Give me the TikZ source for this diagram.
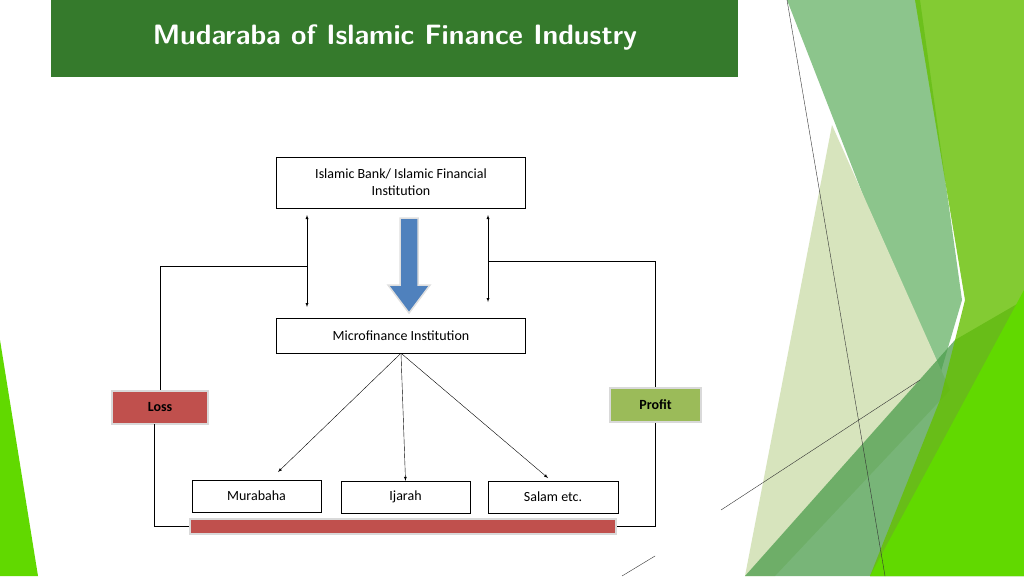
\documentclass[tikz,border=0pt]{standalone}
\usepackage{fontspec}
\setmainfont{Carlito}
\usetikzlibrary{positioning,shapes,arrows}

\definecolor{titlegreen}{HTML}{357A2C}
\definecolor{lossred}{HTML}{C0504D}
\definecolor{profitgreen}{HTML}{9BBB59}
\definecolor{flowblue}{HTML}{4F81BD}

\begin{document}
\begin{tikzpicture}[x=1pt,y=-1pt]
            \tikzstyle{box} = [rectangle, draw=black, fill=white, inner sep=0pt, font=\fontsize{14}{17}\selectfont, align=center]
            \tikzstyle{tag} = [rectangle, draw=gray!30, line width=1.5pt, inner sep=0pt, font=\fontsize{14}{17}\selectfont\bfseries]
            \tikzstyle{arrow} = [thin,-latex]
            \tikzstyle{both} = [thin,latex-latex]

            % Background
            \useasboundingbox (0,0) rectangle (1024,576);
            \fill[white] (0,0) rectangle (1024,576);
            \fill[green!50!black!60, opacity=0.75] (787,0) -- (920,0) -- (962,300) -- (937,385) -- cycle;
            \fill[profitgreen!40] (832,125) -- (950,390) -- (775,576) -- (745,576) -- cycle;
            \fill[green!45!black!70, opacity=0.75] (745,576) -- (955,340) -- (1024,300) -- (1024,576) -- cycle;
            \fill[lime!70!green!75!black, opacity=0.8] (915,0) -- (1024,0) -- (1024,576) -- (870,576) -- (940,400) -- (965,300) -- cycle;
            \fill[lime!60!green!85!black] (870,576) -- (1024,290) -- (1024,576) -- cycle;
            \fill[lime!60!green!85!black] (0,340) -- (38,576) -- (0,576) -- cycle;
            \draw[black!80, thin] (787,0) -- (885,576);
            \draw[black!80, thin] (721,510) -- (920,380);
            \draw[black!80, thin] (622,576) -- (655,556);

            % Title
            \fill[titlegreen] (51,0) rectangle (738,77);
            \node (title) at (395,37) [text=white, font=\fontsize{28}{32}\selectfont\bfseries\sffamily] {Mudaraba of Islamic Finance Industry};

            % Nodes
            \node (bank) at (401,182.5) [box, minimum width=249, minimum height=51] {Islamic Bank/ Islamic Financial\\Institution};
            \node (mfi) at (401,335.5) [box, minimum width=249, minimum height=35] {Microfinance Institution};
            \node (murabaha) at (256.5,496) [box, minimum width=129, minimum height=32] {Murabaha};
            \node (ijarah) at (405.5,497) [box, minimum width=129, minimum height=32] {Ijarah};
            \node (salam) at (553,497) [box, minimum width=130, minimum height=32] {Salam etc.};
            \node (loss) at (160,407.5) [tag, fill=lossred, minimum width=96, minimum height=33] {Loss};
            \node (profit) at (655.5,405) [tag, fill=profitgreen, minimum width=91, minimum height=34] {Profit};
            \node (bar) at (403,526.5) [rectangle, fill=lossred, draw=gray!30, line width=1.5pt, minimum width=426, minimum height=15, inner sep=0pt] {};

            % Coordinates
            \coordinate (lt) at (307,215);
            \coordinate (lb) at (307,307);
            \coordinate (rt) at (488,215);
            \coordinate (rb) at (488,302);
            \coordinate (lossfoot) at (154,424);

            % Arrows
            \draw [both] (lt) -- (lb);
            \draw [both] (rt) -- (rb);
            \draw (307,266) -| (loss.north);
            \draw (488,261) -| (profit.north);
            \draw (lossfoot) |- (bar.west);
            \draw (profit.south) |- (bar.east);
            \draw [arrow] (mfi.south) -- (278,472);
            \draw [arrow] (mfi.south) -- (ijarah.north);
            \draw [arrow] (mfi.south) -- (548,478);
            \draw [fill=flowblue, draw=gray!25, line width=1.5pt] (400,218) -- (418,218) -- (418,285) -- (430,285) -- (409,313) -- (388,285) -- (400,285) -- cycle;
        \end{tikzpicture}
\end{document}
